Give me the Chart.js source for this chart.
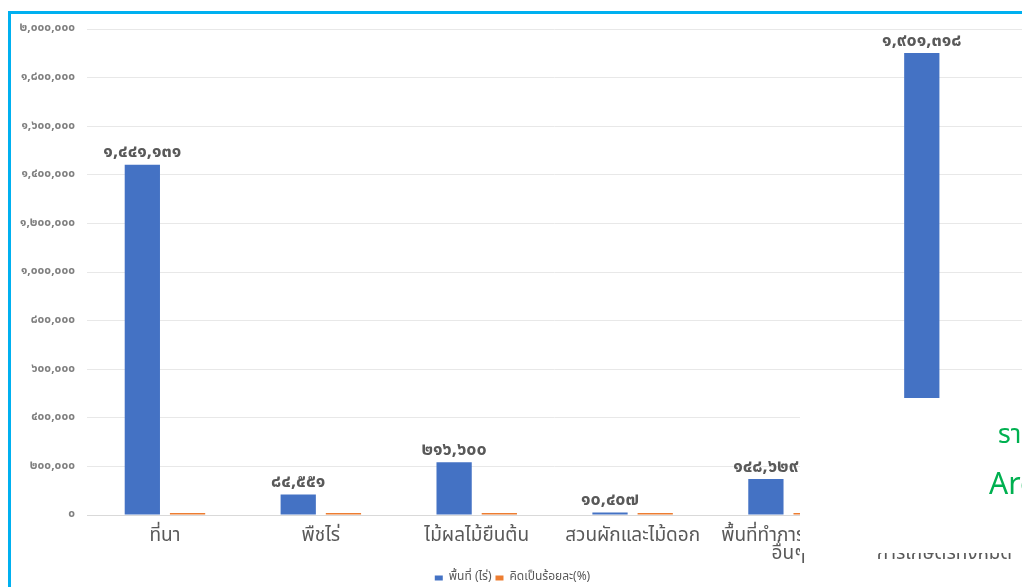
<!DOCTYPE html>
<html>
<head>
<meta charset="utf-8">
<script src="https://cdn.jsdelivr.net/npm/chart.js@4.4.1/dist/chart.umd.min.js"></script>
<style>
    html, body { margin: 0; padding: 0; background: #fff; overflow: hidden; }
    #wrap { position: absolute; left: 0; top: 0; width: 1025px; height: 594px; }
    #frame {
        position: absolute; left: 8px; top: 11px; width: 1020px; height: 580px;
        border-left: 3px solid #00b0f0; border-top: 3px solid #00b0f0;
        pointer-events: none;
    }
</style>
</head>
<body>
<div id="wrap"><canvas id="chart"></canvas></div>
<div id="frame"></div>
<script>
const categories = [
    'ที่นา',
    'พืชไร่',
    'ไม้ผลไม้ยืนต้น',
    'สวนผักและไม้ดอก',
    ['พื้นที่ทำการเกษตร', 'อื่นๆ'],
    ['พื้นที่ทำ', 'การเกษตรทั้งหมด']
];
const areaRai = [1441131, 84551, 216600, 10407, 148629, 1901318];
const percent = [75.8, 4.45, 11.39, 0.55, 7.82, 100];
const seriesNames = ['พื้นที่ (ไร่)', 'คิดเป็นร้อยละ(%)'];
const yMax = 2000000;
const yStep = 200000;

const thaiDigits = '๐๑๒๓๔๕๖๗๘๙';
const toThai = n => Number(n).toLocaleString('en-US').replace(/\d/g, d => thaiDigits[d]);

const THAI_FONT = "Tahoma, 'Noto Sans Thai', 'Noto Sans', 'DejaVu Sans', sans-serif";

// ป้ายค่าเหนือแท่งสีน้ำเงิน
const valueLabels = {
    id: 'valueLabels',
    afterDatasetsDraw(chart) {
        const ctx = chart.ctx;
        const meta = chart.getDatasetMeta(0);
        ctx.save();
        ctx.font = 'bold 18px ' + THAI_FONT;
        ctx.fillStyle = '#595959';
        ctx.textAlign = 'center';
        ctx.textBaseline = 'bottom';
        meta.data.forEach((bar, i) => {
            ctx.fillText(toThai(areaRai[i]), bar.x, bar.y - 2);
        });
        ctx.restore();
    }
};

// ภาพที่ถูกวางทับมุมขวาล่าง
const overlay = {
    id: 'overlay',
    afterDraw(chart) {
        const ctx = chart.ctx;
        ctx.save();
        ctx.fillStyle = '#ffffff';
        ctx.fillRect(800, 398, 230, 155);
        ctx.fillStyle = '#00b050';
        ctx.textBaseline = 'middle';
        ctx.textAlign = 'left';
        ctx.font = '26px ' + THAI_FONT;
        ctx.fillText('ราย', 998, 438);
        ctx.font = '30px ' + THAI_FONT;
        ctx.fillText('Area', 989, 488);
        ctx.restore();
    }
};

const ctx = document.getElementById('chart').getContext('2d');

new Chart(ctx, {
    type: 'bar',
    data: {
        labels: categories,
        datasets: [{
            label: seriesNames[0],
            data: areaRai,
            backgroundColor: '#4472c4',
            borderWidth: 0,
            barPercentage: 0.78,
            categoryPercentage: 0.58
        }, {
            label: seriesNames[1],
            data: percent,
            backgroundColor: '#ed7d31',
            borderWidth: 0,
            minBarLength: 2,
            barPercentage: 0.78,
            categoryPercentage: 0.58
        }]
    },
    options: {
        responsive: true,
        maintainAspectRatio: false,
        animation: false,
        layout: {
            padding: { top: 29, right: 0, bottom: 0, left: 0 }
        },
        plugins: {
            legend: {
                display: true,
                position: 'bottom',
                labels: {
                    font: { family: THAI_FONT, size: 12 },
                    color: '#595959',
                    boxWidth: 8,
                    boxHeight: 5,
                    padding: 4
                }
            },
            tooltip: { enabled: false }
        },
        scales: {
            x: {
                grid: { display: false, drawTicks: false },
                border: { display: true, color: '#d9d9d9', width: 1 },
                ticks: {
                    autoSkip: false,
                    maxRotation: 0,
                    minRotation: 0,
                    padding: 13,
                    color: '#595959',
                    font: { family: THAI_FONT, size: 19, lineHeight: 0.95 }
                },
                afterFit: scale => { scale.height = 53; }
            },
            y: {
                min: 0,
                max: yMax,
                grid: { color: '#e8e8e8', drawTicks: false },
                border: { display: false },
                ticks: {
                    stepSize: yStep,
                    padding: 12,
                    color: '#7f7f7f',
                    font: { family: THAI_FONT, size: 12, weight: 'bold' },
                    callback: v => toThai(v)
                },
                afterFit: scale => { scale.width = 87; }
            }
        }
    },
    plugins: [valueLabels, overlay]
});
</script>
</body>
</html>
